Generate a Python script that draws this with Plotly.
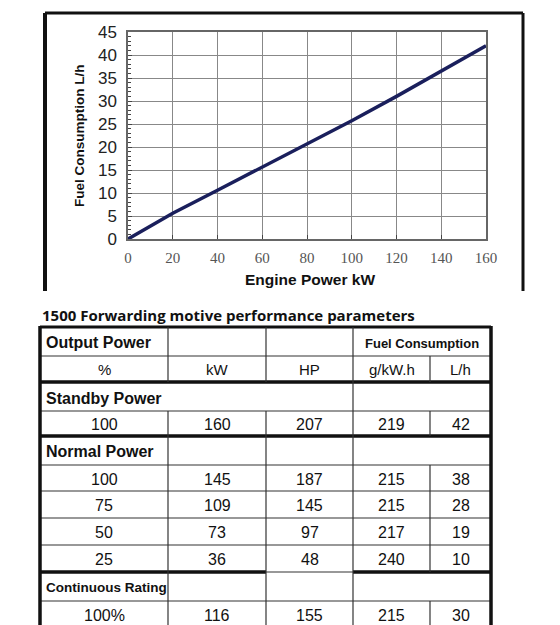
import plotly.graph_objects as go

# ---- chart data ----
power_kw = [0, 20, 40, 60, 80, 100, 120, 140, 160]
fuel_lh = [0, 5.6, 10.6, 15.6, 20.6, 25.7, 31.0, 36.5, 42.0]
x_ticks = [0, 20, 40, 60, 80, 100, 120, 140, 160]
y_ticks = [0, 5, 10, 15, 20, 25, 30, 35, 40, 45]

# ---- table data ----
table_title = "1500 Forwarding motive performance parameters"
col_headers = ["%", "kW", "HP", "g/kW.h", "L/h"]
standby_rows = [["100", "160", "207", "219", "42"]]
normal_rows = [["100", "145", "187", "215", "38"],
               ["75", "109", "145", "215", "28"],
               ["50", "73", "97", "217", "19"],
               ["25", "36", "48", "240", "10"]]
continuous_rows = [["100%", "116", "155", "215", "30"]]

W, H = 560, 625
def px(x): return x / W
def py(y): return 1 - y / H

fig = go.Figure()
fig.add_trace(go.Scatter(x=power_kw, y=fuel_lh, mode="lines",
                         line=dict(color="#1a1f5c", width=3.5), showlegend=False))

shapes = []
annos = []
def line(x0, y0, x1, y1, w=1.2, c="#333"):
    shapes.append(dict(type="line", xref="paper", yref="paper", x0=px(x0), y0=py(y0),
                       x1=px(x1), y1=py(y1), line=dict(color=c, width=w)))
def text(x, y, t, size=14, bold=False, anchor="center", fam="Liberation Sans", angle=0):
    annos.append(dict(xref="paper", yref="paper", x=px(x), y=py(y), text=(f"<b>{t}</b>" if bold else t),
                      showarrow=False, xanchor=anchor, yanchor="middle", textangle=angle,
                      font=dict(family=fam, size=size, color="#111")))

# chart frame
line(37, 5, 515, 5, 3, "#111")
line(37, 5, 37, 283, 4, "#111")
line(515, 5, 515, 283, 3, "#111")
# axis titles
text(72, 128, "Fuel Consumption L/h", 13.5, True, "center", angle=-90)
text(302, 271, "Engine Power kW", 15.5, True, "center")

# table
cols = [32, 160, 258, 345, 422, 483]
mid = [(cols[i] + cols[i + 1]) / 2 for i in range(5)]
text(32, 307, table_title, 15, True, "left", "Open Sans")
line(32, 319, 483, 319, 3, "#111")
for y in [348, 403, 457, 483, 510, 537, 593]:
    line(32, y, 483, y)
line(32, 374, 483, 374, 3.5, "#111")
line(32, 428, 483, 428, 3.5, "#111")
line(32, 564, 258, 564, 3.5, "#111")
line(258, 564, 345, 564)
line(345, 564, 483, 564, 3.5, "#111")
line(32, 621, 258, 621, 2.5, "#111")
line(32, 318, 32, 625, 3.5, "#111")
line(483, 318, 483, 622, 3.5, "#111")
line(160, 319, 160, 374); line(258, 319, 258, 374); line(345, 319, 345, 374); line(422, 348, 422, 374)
line(345, 374, 345, 428); line(160, 403, 160, 428); line(258, 403, 258, 428); line(422, 403, 422, 428)
for c in [160, 258, 345]:
    line(c, 428, c, 621)
line(422, 457, 422, 564)
line(422, 593, 422, 621)

text(36, 334, "Output Power", 16, True, "left")
text(414, 335, "Fuel Consumption", 13, True, "center")
for i, h in enumerate(col_headers):
    text(mid[i], 361, h, 15)
text(36, 390, "Standby Power", 16, True, "left")
def rows_at(rows, ys):
    for r, y in zip(rows, ys):
        for i, v in enumerate(r):
            text(mid[i], y, v, 16)
rows_at(standby_rows, [416])
text(36, 443, "Normal Power", 16, True, "left")
rows_at(normal_rows, [471, 497, 524, 551])
text(36, 579, "Continuous Rating", 13.5, True, "left")
rows_at(continuous_rows, [607])

fig.update_layout(
    width=W, height=H, margin=dict(l=0, r=0, t=0, b=0),
    paper_bgcolor="white", plot_bgcolor="white",
    shapes=shapes, annotations=annos,
    xaxis=dict(domain=[px(120), px(478)], range=[0, 160], tickvals=x_ticks, automargin=False,
               ticks="inside", ticklen=4, tickcolor="#444", ticklabelstandoff=4,
               showgrid=True, gridcolor="#888", gridwidth=1.2,
               showline=True, linecolor="#666", linewidth=1.5, mirror=True, zeroline=False,
               tickfont=dict(family="Liberation Serif", size=15, color="#555")),
    yaxis=dict(domain=[py(231), py(24)], range=[0, 45], tickvals=y_ticks, automargin=False,
               ticks="inside", ticklen=4, tickcolor="#444", ticklabelstandoff=6,
               minor=dict(dtick=1, ticks="inside", ticklen=3, tickcolor="#444", showgrid=False),
               showgrid=True, gridcolor="#888", gridwidth=1.2,
               showline=True, linecolor="#666", linewidth=1.5, mirror=True, zeroline=False,
               tickfont=dict(family="Liberation Sans", size=17, color="#222")),
)
fig.write_html("out.html")
